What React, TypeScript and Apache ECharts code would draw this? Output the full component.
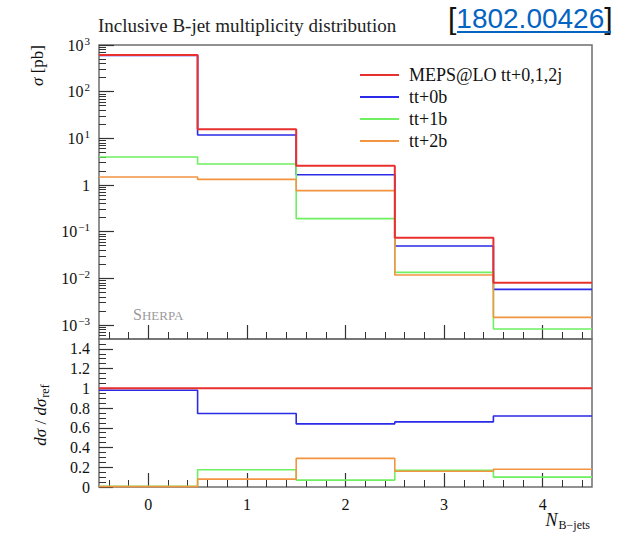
import { useEffect, useRef } from "react";
import * as echarts from "echarts";

// Bin edges of the B-jet multiplicity histogram and the labelled multiplicities
const binEdges = [-0.5, 0.5, 1.5, 2.5, 3.5, 4.5];
const nbLabels = [0, 1, 2, 3, 4];

// Cross sections per bin [pb]
const xsecMeps = [611, 15.6, 2.6, 0.0743, 0.00807];
const xsec0b = [600, 11.8, 1.66, 0.0493, 0.00581];
const xsec1b = [3.98, 2.82, 0.19, 0.01345, 0.00082];
const xsec2b = [1.48, 1.32, 0.756, 0.0118, 0.00146];

// Ratios to the MEPS@LO reference
const ratioMeps = [1, 1, 1, 1, 1];
const ratio0b = [0.98, 0.745, 0.64, 0.66, 0.72];
const ratio1b = [0.008, 0.175, 0.07, 0.17, 0.1];
const ratio2b = [0.004, 0.08, 0.29, 0.16, 0.18];

const seriesNames = ["MEPS@LO tt+0,1,2j", "tt+0b", "tt+1b", "tt+2b"];
const seriesColors = ["#e8302e", "#2a2ae8", "#6ef060", "#f29440"];

// Tick positions
const logMajor = [1e-3, 1e-2, 1e-1, 1, 10, 100, 1000];
const ratioMajor = [0, 0.2, 0.4, 0.6, 0.8, 1, 1.2, 1.4];

const LOG_MIN = Math.pow(10, -3.3);
const LOG_MAX = 1000;

function logMinorTicks(): number[] {
  const out: number[] = [];
  for (let k = -4; k <= 2; k++) {
    for (let m = 2; m <= 9; m++) {
      const v = Number((m * Math.pow(10, k)).toPrecision(3));
      if (v >= LOG_MIN && v <= LOG_MAX) out.push(v);
    }
  }
  return out;
}

function stepMinor(from: number, to: number, step: number, skip: number[]): number[] {
  const out: number[] = [];
  const n = Math.round((to - from) / step);
  for (let i = 0; i <= n; i++) {
    const v = Number((from + i * step).toFixed(3));
    if (!skip.some((s) => Math.abs(s - v) < 1e-6)) out.push(v);
  }
  return out;
}

// Histogram outline: one point per left bin edge plus the closing right edge
function toSteps(vals: number[]): number[][] {
  const pts = vals.map((v, i) => [binEdges[i], v]);
  pts.push([binEdges[binEdges.length - 1], vals[vals.length - 1]]);
  return pts;
}

const SERIF = "'Liberation Serif', serif";
const SANS = "'Liberation Sans', sans-serif";
const TICK_COLOR = "#333";

function logLabel(v: number): string {
  const e = Math.round(Math.log10(v));
  if (e === 0) return "{b|1}";
  const exp = e < 0 ? "\u2212" + Math.abs(e) : String(e);
  return "{b|10}{s|" + exp + "}";
}

export default function App() {
  const ref = useRef<HTMLDivElement>(null);

  useEffect(() => {
    if (!ref.current) return;
    const chart = echarts.init(ref.current, undefined, { renderer: "svg" });

    const xMinor = stepMinor(-0.4, 4.4, 0.2, nbLabels);
    const ratioMinor = stepMinor(0.05, 1.45, 0.05, ratioMajor);

    const upper = [xsecMeps, xsec0b, xsec1b, xsec2b];
    const lower = [ratioMeps, ratio0b, ratio1b, ratio2b];

    const mkSeries = (vals: number[], i: number, panel: number) => ({
      name: seriesNames[i],
      type: "line",
      step: "end",
      xAxisIndex: panel === 0 ? 0 : 2,
      yAxisIndex: panel === 0 ? 0 : 2,
      data: toSteps(vals),
      symbol: "none",
      showSymbol: false,
      z: i === 0 ? 4 : 3,
      lineStyle: { color: seriesColors[i], width: i === 0 ? 2 : 1.6 },
      itemStyle: { color: seriesColors[i] },
      emphasis: { disabled: true },
    });

    const grids = [
      { left: 99, right: 39, top: 45, height: 294 },
      { left: 99, right: 39, top: 339, height: 148 },
    ].map((g) => ({
      ...g,
      show: true,
      borderColor: "#6e6e6e",
      borderWidth: 1.5,
      backgroundColor: "transparent",
      containLabel: false,
    }));

    const xBase = (gridIndex: number) => ({
      type: "value",
      gridIndex,
      position: "bottom",
      min: -0.5,
      max: 4.5,
      axisLine: { show: false, onZero: false },
      splitLine: { show: false },
    });

    const yBase = (gridIndex: number) => ({
      gridIndex,
      position: "left",
      axisLine: { show: false, onZero: false },
      splitLine: { show: false },
    });

    const option: any = {
      animation: false,
      grid: grids,
      legend: {
        data: seriesNames.map((n) => ({ name: n, icon: "rect" })),
        orient: "vertical",
        left: 355,
        top: 61,
        itemWidth: 39,
        itemHeight: 2,
        itemGap: 4,
        selectedMode: false,
        textStyle: {
          fontFamily: SERIF,
          fontSize: 18,
          color: "#111",
          padding: [0, 0, 0, 5],
        },
      },
      xAxis: [
        {
          ...xBase(0),
          axisLabel: { show: false },
          axisTick: {
            show: true,
            inside: true,
            length: 14,
            customValues: nbLabels,
            lineStyle: { color: TICK_COLOR, width: 1.2 },
          },
        },
        {
          ...xBase(0),
          axisLabel: { show: false },
          axisTick: {
            show: true,
            inside: true,
            length: 7,
            customValues: xMinor,
            lineStyle: { color: TICK_COLOR, width: 1 },
          },
        },
        {
          ...xBase(1),
          axisLabel: {
            show: true,
            customValues: nbLabels,
            margin: 9,
            fontFamily: SERIF,
            fontSize: 16,
            color: "#111",
            formatter: (v: number) => String(v),
          },
          axisTick: {
            show: true,
            inside: true,
            length: 14,
            customValues: nbLabels,
            lineStyle: { color: TICK_COLOR, width: 1.2 },
          },
        },
        {
          ...xBase(1),
          axisLabel: { show: false },
          axisTick: {
            show: true,
            inside: true,
            length: 7,
            customValues: xMinor,
            lineStyle: { color: TICK_COLOR, width: 1 },
          },
        },
      ],
      yAxis: [
        {
          ...yBase(0),
          type: "log",
          logBase: 10,
          min: LOG_MIN,
          max: LOG_MAX,
          axisTick: {
            show: true,
            inside: true,
            length: 15,
            customValues: logMajor,
            lineStyle: { color: TICK_COLOR, width: 1.2 },
          },
          axisLabel: {
            show: true,
            customValues: logMajor,
            margin: 9,
            color: "#111",
            formatter: (v: number) => logLabel(v),
            rich: {
              b: { fontFamily: SERIF, fontSize: 16, color: "#111" },
              s: {
                fontFamily: SERIF,
                fontSize: 11,
                color: "#111",
                padding: [0, 0, 9, 1],
              },
            },
          },
        },
        {
          ...yBase(0),
          type: "log",
          logBase: 10,
          min: LOG_MIN,
          max: LOG_MAX,
          axisLabel: { show: false },
          axisTick: {
            show: true,
            inside: true,
            length: 7,
            customValues: logMinorTicks(),
            lineStyle: { color: TICK_COLOR, width: 1 },
          },
        },
        {
          ...yBase(1),
          type: "value",
          min: 0,
          max: 1.5,
          axisTick: {
            show: true,
            inside: true,
            length: 14,
            customValues: ratioMajor,
            lineStyle: { color: TICK_COLOR, width: 1.2 },
          },
          axisLabel: {
            show: true,
            customValues: ratioMajor,
            margin: 9,
            fontFamily: SERIF,
            fontSize: 16,
            color: "#111",
            formatter: (v: number) => String(Number(v.toFixed(2))),
          },
        },
        {
          ...yBase(1),
          type: "value",
          min: 0,
          max: 1.5,
          axisLabel: { show: false },
          axisTick: {
            show: true,
            inside: true,
            length: 7,
            customValues: ratioMinor,
            lineStyle: { color: TICK_COLOR, width: 1 },
          },
        },
      ],
      series: [
        ...upper.map((v, i) => mkSeries(v, i, 0)),
        ...lower.map((v, i) => mkSeries(v, i, 1)),
      ],
      graphic: [
        {
          type: "text",
          x: 98,
          y: 25,
          style: {
            text: "Inclusive B-jet multiplicity distribution",
            fontFamily: SERIF,
            fontSize: 19,
            fill: "#222",
            align: "left",
            verticalAlign: "middle",
          },
        },
        {
          type: "text",
          x: 448,
          y: 18,
          style: {
            text: "{k|[}{u|1802.00426}{k|]}",
            align: "left",
            verticalAlign: "middle",
            rich: {
              k: { fontFamily: SANS, fontSize: 30, fill: "#111" },
              u: { fontFamily: SANS, fontSize: 28, fill: "#0563c1" },
            },
          },
        },
        {
          type: "line",
          shape: { x1: 457, y1: 32, x2: 611, y2: 32 },
          style: { stroke: "#0563c1", lineWidth: 2 },
        },
        {
          type: "text",
          x: 37,
          y: 45,
          rotation: Math.PI / 2,
          style: {
            text: "{i|\u03c3} [pb]",
            fontFamily: SERIF,
            fontSize: 17,
            fill: "#111",
            align: "right",
            verticalAlign: "middle",
            rich: {
              i: { fontFamily: SERIF, fontSize: 17, fontStyle: "italic", fill: "#111" },
            },
          },
        },
        {
          type: "text",
          x: 40,
          y: 415,
          rotation: Math.PI / 2,
          style: {
            text: "{i|d\u03c3} / {i|d\u03c3}{s|ref}",
            fontFamily: SERIF,
            fontSize: 17,
            fill: "#111",
            align: "center",
            verticalAlign: "middle",
            rich: {
              i: { fontFamily: SERIF, fontSize: 17, fontStyle: "italic", fill: "#111" },
              s: { fontFamily: SERIF, fontSize: 12, fill: "#111", padding: [9, 0, 0, 1] },
            },
          },
        },
        {
          type: "text",
          x: 590,
          y: 520,
          style: {
            text: "{n|N}{s|B\u2212jets}",
            align: "right",
            verticalAlign: "middle",
            rich: {
              n: { fontFamily: SERIF, fontSize: 18, fontStyle: "italic", fill: "#111" },
              s: { fontFamily: SERIF, fontSize: 12, fill: "#111", padding: [9, 0, 0, 1] },
            },
          },
        },
        {
          type: "text",
          x: 133,
          y: 314,
          style: {
            text: "{a|S}{b|HERPA}",
            align: "left",
            verticalAlign: "middle",
            rich: {
              a: { fontFamily: SERIF, fontSize: 16, fill: "#9a9a9a", verticalAlign: "bottom" },
              b: { fontFamily: SERIF, fontSize: 13, fill: "#9a9a9a", verticalAlign: "bottom" },
            },
          },
        },
      ],
    };

    chart.setOption(option);
    return () => chart.dispose();
  }, []);

  return (
    <div
      ref={ref}
      style={{ position: "absolute", left: 0, top: 0, width: 631, height: 534 }}
    />
  );
}
